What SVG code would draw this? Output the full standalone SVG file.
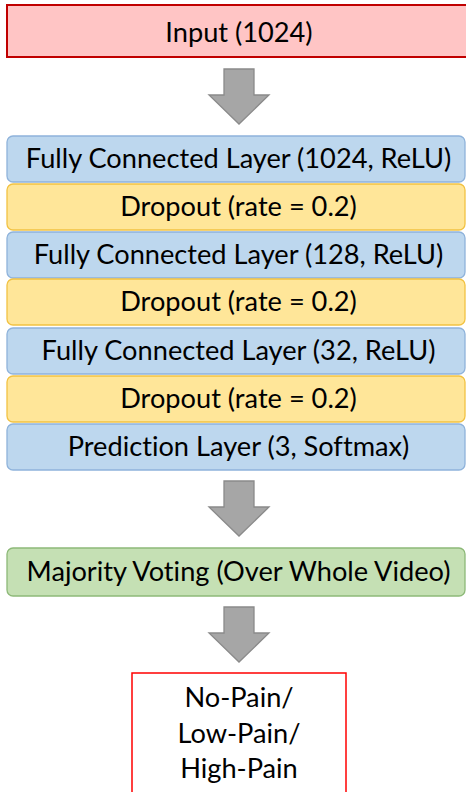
<svg xmlns="http://www.w3.org/2000/svg" width="466" height="792" viewBox="0 0 466 792">
<defs>
<style>
text{font-family:Lato,"Liberation Sans",sans-serif;font-size:27.2px;fill:#000;text-anchor:middle;font-variant-ligatures:none;font-feature-settings:"liga" 0}
.fc{fill:#BDD7EE;stroke:#8FB3DB;stroke-width:1.3}
.dp{fill:#FFE699;stroke:#F2C242;stroke-width:1.3}
.mv{fill:#C5E0B4;stroke:#8DB978;stroke-width:1.3}
.arr{fill:#A6A6A6;stroke:#8A8A8A;stroke-width:1.3}
</style>
<path id="darrow" d="M-15,0 H15 V26 H30 L0,55 L-30,26 H-15 Z"/>
</defs>
<rect width="466" height="792" fill="#fff"/>
<g id="connectors">
<use href="#darrow" class="arr" x="239" y="69"/>
<use href="#darrow" class="arr" x="239" y="481"/>
<use href="#darrow" class="arr" x="239" y="607"/>
</g>
<g id="input">
<rect x="7" y="5" width="470" height="52" fill="#FFC5C5" stroke="#C00000" stroke-width="2"/>
<text x="239" y="42">Input (1024)</text>
</g>
<g id="fc1">
<rect class="fc" x="7" y="136" width="458" height="46" rx="6"/>
<text x="238.5" y="168">Fully Connected Layer (1024, ReLU)</text>
</g>
<g id="drop1">
<rect class="dp" x="7" y="184" width="458" height="46" rx="6"/>
<text x="238.5" y="216">Dropout (rate = 0.2)</text>
</g>
<g id="fc2">
<rect class="fc" x="7" y="232" width="458" height="46" rx="6"/>
<text x="238.5" y="264">Fully Connected Layer (128, ReLU)</text>
</g>
<g id="drop2">
<rect class="dp" x="7" y="279" width="458" height="46" rx="6"/>
<text x="238.5" y="311">Dropout (rate = 0.2)</text>
</g>
<g id="fc3">
<rect class="fc" x="7" y="328" width="458" height="46" rx="6"/>
<text x="238.5" y="360">Fully Connected Layer (32, ReLU)</text>
</g>
<g id="drop3">
<rect class="dp" x="7" y="376" width="458" height="46" rx="6"/>
<text x="238.5" y="408">Dropout (rate = 0.2)</text>
</g>
<g id="pred">
<rect class="fc" x="7" y="424" width="458" height="46" rx="6"/>
<text x="238.5" y="456">Prediction Layer (3, Softmax)</text>
</g>
<g id="voting">
<rect class="mv" x="7" y="548" width="458" height="48" rx="6"/>
<text x="238.5" y="581">Majority Voting (Over Whole Video)</text>
</g>
<g id="output">
<rect x="132" y="673" width="214" height="130" fill="#fff" stroke="#FF0000" stroke-width="1.5"/>
<text x="239" y="707">No-Pain/</text>
<text x="239" y="743">Low-Pain/</text>
<text x="239" y="778">High-Pain</text>
</g>
</svg>
